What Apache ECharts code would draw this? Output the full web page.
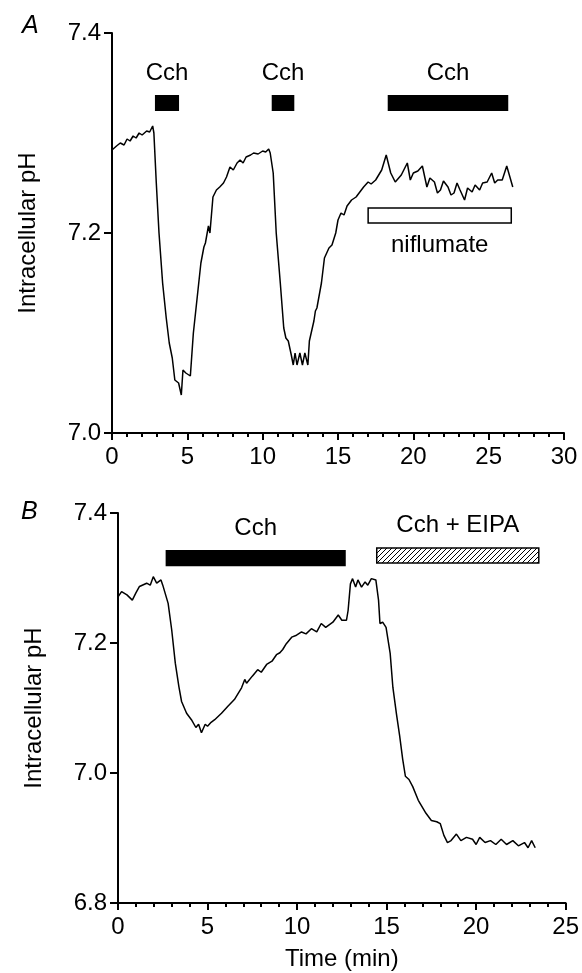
<!DOCTYPE html>
<html>
<head>
<meta charset="utf-8">
<script src="https://cdn.jsdelivr.net/npm/echarts@6/dist/echarts.min.js"></script>
<style>
  html, body { margin: 0; padding: 0; background: #fff; }
  #chart { width: 582px; height: 973px; }
</style>
</head>
<body>
<div id="chart"></div>
<script>
// panel A trace: time (min) and intracellular pH
var timeA = [0, 0.3, 0.55, 0.8, 1.0, 1.2, 1.4, 1.6, 1.8, 2.0, 2.3, 2.5, 2.7, 2.78, 2.94, 3.12, 3.36, 3.6, 3.8, 4.0,
  4.17, 4.3, 4.42, 4.6, 4.71, 4.9, 5.2, 5.4, 5.65, 5.9, 6.1, 6.2, 6.4, 6.5, 6.7, 6.93, 7.15, 7.4, 7.6, 7.83,
  8.05, 8.3, 8.5, 8.7, 8.9, 9.2, 9.4, 9.7, 10.0, 10.2, 10.4, 10.5, 10.7, 10.9, 11.17, 11.4, 11.54, 11.7, 11.9, 12.03,
  12.15, 12.28, 12.47, 12.64, 12.8, 13.0, 13.1, 13.4, 13.5, 13.6, 13.9, 14.1, 14.4, 14.6, 14.85, 15.0, 15.2, 15.4, 15.6, 15.9,
  16.2, 16.4, 16.7, 17.0, 17.2, 17.5, 17.9, 18.2, 18.5, 18.8, 19.2, 19.6, 19.8, 20.0, 20.3, 20.6, 20.9, 21.1, 21.4, 21.6,
  21.8, 22.0, 22.3, 22.5, 22.7, 22.9, 23.1, 23.4, 23.6, 23.9, 24.1, 24.4, 24.6, 24.9, 25.2, 25.4, 25.6, 25.9, 26.2, 26.6];
var phA = [7.283, 7.287, 7.290, 7.288, 7.294, 7.292, 7.297, 7.295, 7.300, 7.298, 7.302, 7.301, 7.307, 7.300, 7.250, 7.200, 7.150, 7.115, 7.090, 7.075,
  7.053, 7.055, 7.050, 7.038, 7.063, 7.060, 7.057, 7.100, 7.135, 7.170, 7.186, 7.190, 7.207, 7.200, 7.236, 7.243, 7.246, 7.250, 7.256, 7.266,
  7.263, 7.270, 7.273, 7.270, 7.276, 7.278, 7.280, 7.279, 7.282, 7.281, 7.284, 7.280, 7.260, 7.200, 7.150, 7.105, 7.095, 7.092, 7.078, 7.068,
  7.080, 7.068, 7.080, 7.068, 7.080, 7.068, 7.092, 7.112, 7.122, 7.125, 7.150, 7.175, 7.185, 7.188, 7.200, 7.213, 7.220, 7.218, 7.227, 7.233,
  7.236, 7.240, 7.246, 7.251, 7.249, 7.253, 7.263, 7.278, 7.260, 7.251, 7.258, 7.270, 7.253, 7.260, 7.262, 7.267, 7.246, 7.255, 7.251, 7.240,
  7.243, 7.252, 7.246, 7.238, 7.240, 7.250, 7.243, 7.233, 7.245, 7.241, 7.248, 7.243, 7.250, 7.251, 7.260, 7.250, 7.253, 7.253, 7.267, 7.246];

// panel B trace
var timeB = [0, 0.2, 0.5, 0.8, 1.0, 1.2, 1.3, 1.6, 1.8, 1.97, 2.16, 2.4, 2.5, 2.8, 3.0, 3.2, 3.4, 3.55, 3.83, 4.1,
  4.35, 4.5, 4.66, 4.87, 5.0, 5.2, 5.4, 5.78, 6.15, 6.5, 6.9, 7.08, 7.18, 7.5, 7.8, 8.0, 8.3, 8.6, 8.85, 9.04,
  9.2, 9.4, 9.7, 9.97, 10.25, 10.5, 10.8, 11.1, 11.35, 11.6, 12.0, 12.3, 12.5, 12.76, 12.85, 12.98, 13.1, 13.27, 13.4, 13.6,
  13.8, 13.95, 14.15, 14.4, 14.55, 14.63, 14.78, 14.97, 15.2, 15.35, 15.55, 15.73, 15.9, 16.05, 16.25, 16.46, 16.77, 17.2, 17.5, 17.8,
  18.0, 18.2, 18.4, 18.6, 18.9, 19.15, 19.46, 19.8, 20.0, 20.2, 20.5, 20.8, 21.1, 21.4, 21.7, 22.05, 22.36, 22.7, 22.9, 23.1, 23.3];
var phB = [7.271, 7.279, 7.274, 7.266, 7.277, 7.287, 7.284, 7.292, 7.289, 7.302, 7.292, 7.297, 7.289, 7.261, 7.220, 7.169, 7.133, 7.110, 7.092, 7.082,
  7.070, 7.075, 7.062, 7.075, 7.072, 7.078, 7.082, 7.092, 7.103, 7.113, 7.131, 7.144, 7.138, 7.149, 7.159, 7.155, 7.167, 7.172, 7.182, 7.185,
  7.190, 7.199, 7.209, 7.212, 7.217, 7.214, 7.222, 7.217, 7.230, 7.224, 7.232, 7.243, 7.235, 7.235, 7.250, 7.291, 7.299, 7.286, 7.297, 7.286,
  7.294, 7.289, 7.299, 7.297, 7.266, 7.230, 7.232, 7.224, 7.184, 7.132, 7.091, 7.057, 7.021, 6.995, 6.990, 6.979, 6.958, 6.938, 6.927, 6.925,
  6.922, 6.904, 6.893, 6.896, 6.906, 6.896, 6.901, 6.898, 6.890, 6.901, 6.893, 6.896, 6.890, 6.898, 6.890, 6.896, 6.888, 6.893, 6.885, 6.896, 6.885];

// drug application bars: [start, end, label]
var barsA = [[2.85, 4.45, 'Cch'], [10.6, 12.1, 'Cch'], [18.3, 26.3, 'Cch']];
var niflumateA = [[17.0, 26.5, 'niflumate']];
var cchB = [[2.66, 12.72, 'Cch']];
var eipaB = [[14.45, 23.5, 'Cch + EIPA']];

var yTicksA = [7.0, 7.2, 7.4];
var yTicksB = [6.8, 7.0, 7.2, 7.4];

var font = "'Liberation Sans', Arial, sans-serif";
var fs = 24;

function zip(xs, ys) {
  return xs.map(function (x, i) { return [x, ys[i]]; });
}

// hatch pattern for the EIPA bar
var hatch = document.createElement('canvas');
hatch.width = 5; hatch.height = 5;
var hc = hatch.getContext('2d');
hc.fillStyle = '#fff';
hc.fillRect(0, 0, 5, 5);
hc.strokeStyle = '#000';
hc.lineWidth = 1;
hc.beginPath();
hc.moveTo(0, 5); hc.lineTo(5, 0);
hc.moveTo(-1, 1); hc.lineTo(1, -1);
hc.moveTo(4, 6); hc.lineTo(6, 4);
hc.stroke();

function areas(bars, y0, y1, style, labelPos) {
  return bars.map(function (b) {
    return [
      { xAxis: b[0], yAxis: y0, name: b[2], itemStyle: style,
        label: { show: true, position: labelPos, distance: 10, color: '#000', fontSize: fs, fontFamily: font } },
      { xAxis: b[1], yAxis: y1 }
    ];
  });
}

function xAx(idx, max, name) {
  return {
    type: 'value', gridIndex: idx, min: 0, max: max, interval: 5,
    name: name, nameLocation: 'middle', nameGap: 44,
    nameTextStyle: { color: '#000', fontSize: fs, fontFamily: font },
    axisLine: { lineStyle: { color: '#000', width: 2 } },
    axisTick: { length: 7, lineStyle: { color: '#000', width: 2 } },
    minorTick: { show: true, splitNumber: 5, length: 4, lineStyle: { color: '#000', width: 2 } },
    axisLabel: { color: '#000', fontSize: fs, fontFamily: font, margin: 12 },
    splitLine: { show: false }
  };
}

function yAx(idx, ticks) {
  return {
    type: 'value', gridIndex: idx, min: ticks[0], max: ticks[ticks.length - 1], interval: 0.2,
    name: 'Intracellular pH', nameLocation: 'middle', nameGap: 72,
    nameTextStyle: { color: '#000', fontSize: fs, fontFamily: font },
    axisLine: { show: true, lineStyle: { color: '#000', width: 2 } },
    axisTick: { show: true, length: 8, lineStyle: { color: '#000', width: 2 } },
    axisLabel: { color: '#000', fontSize: fs, fontFamily: font, margin: 11,
      formatter: function (v) { return v.toFixed(1); } },
    splitLine: { show: false }
  };
}

var chart = echarts.init(document.getElementById('chart'));
chart.setOption({
  animation: false,
  backgroundColor: '#fff',
  grid: [
    { left: 112, top: 33, width: 452, height: 400 },
    { left: 118, top: 513, width: 449, height: 390 }
  ],
  xAxis: [xAx(0, 30, ''), xAx(1, 25, 'Time (min)')],
  yAxis: [yAx(0, yTicksA), yAx(1, yTicksB)],
  graphic: [
    { type: 'text', left: 22, top: 14, style: { text: 'A', fontSize: 25, fontStyle: 'italic', fontFamily: font, fill: '#000' } },
    { type: 'text', left: 21, top: 500, style: { text: 'B', fontSize: 25, fontStyle: 'italic', fontFamily: font, fill: '#000' } }
  ],
  series: [
    {
      type: 'line', xAxisIndex: 0, yAxisIndex: 0, data: zip(timeA, phA),
      showSymbol: false, lineStyle: { color: '#000', width: 1.5 },
      markArea: {
        silent: true,
        data: areas(barsA, 7.338, 7.322, { color: '#000' }, 'top')
          .concat(areas(niflumateA, 7.225, 7.210, { color: '#fff', borderColor: '#000', borderWidth: 1.5 }, 'bottom'))
      }
    },
    {
      type: 'line', xAxisIndex: 1, yAxisIndex: 1, data: zip(timeB, phB),
      showSymbol: false, lineStyle: { color: '#000', width: 1.5 },
      markArea: {
        silent: true,
        data: areas(cchB, 7.343, 7.318, { color: '#000' }, 'top')
          .concat(areas(eipaB, 7.346, 7.323, { color: { image: hatch, repeat: 'repeat' }, borderColor: '#000', borderWidth: 1.5 }, 'top'))
      }
    }
  ]
});
</script>
</body>
</html>
